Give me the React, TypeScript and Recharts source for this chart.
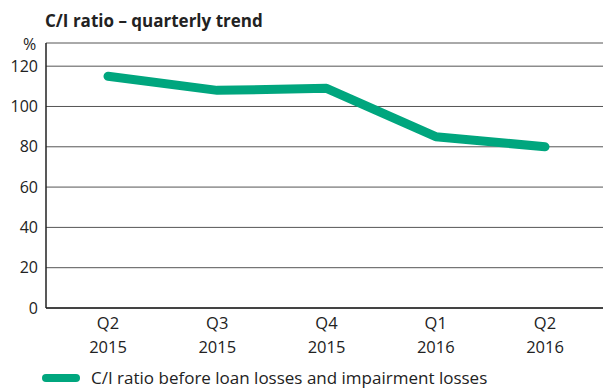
import { LineChart, Line, XAxis, YAxis, CartesianGrid, Legend } from 'recharts'

const quarters = ['Q2', 'Q3', 'Q4', 'Q1', 'Q2']
const years = ['2015', '2015', '2015', '2016', '2016']
const ciRatio = [115, 108, 109, 85, 80]
const yTicks = [0, 20, 40, 60, 80, 100, 120]

const data = quarters.map((q, i) => ({ label: `${q} ${years[i]}`, q, year: years[i], ci: ciRatio[i] }))

const FONT = '"Open Sans", sans-serif'
const GREEN = '#00a67e'

function QuarterTick(props: any) {
  const { x, y, payload, index } = props
  return (
    <text x={x} y={y} textAnchor="middle" fill="#222" fontSize={16.5} fontFamily={FONT}>
      <tspan x={x} dy={13}>{quarters[index] ?? payload.value}</tspan>
      <tspan x={x} dy={24}>{years[index]}</tspan>
    </text>
  )
}

function LegendBox() {
  return (
    <div style={{ display: 'flex', alignItems: 'center', paddingLeft: 42, paddingTop: 5, lineHeight: '20px', fontFamily: FONT, fontSize: 17, color: '#222' }}>
      <span style={{ display: 'inline-block', width: 38, height: 8, borderRadius: 4, background: GREEN, marginRight: 11 }} />
      C/I ratio before loan losses and impairment losses
    </div>
  )
}

export default function App() {
  return (
    <div style={{ position: 'absolute', left: 0, top: 0, width: 603, height: 389, background: '#fff' }}>
      <div style={{ position: 'absolute', left: 45, top: 9, fontFamily: FONT, fontWeight: 700, fontSize: 17, color: '#222' }}>
        C/I ratio – quarterly trend
      </div>
      <div style={{ position: 'absolute', left: 23, top: 33, fontFamily: FONT, fontSize: 16, color: '#222' }}>%</div>
      <LineChart width={603} height={389} data={data} margin={{ top: 43, right: 0, left: 0, bottom: 0 }}>
        <CartesianGrid vertical={false} stroke="#555" strokeWidth={1} />
        <XAxis
          dataKey="label"
          height={55}
          tick={<QuarterTick />}
          tickLine={false}
          axisLine={{ stroke: '#222', strokeWidth: 1.5 }}
          padding={{ left: 62, right: 58 }}
          interval={0}
        />
        <YAxis
          width={46}
          domain={[0, 131.5]}
          ticks={yTicks}
          allowDataOverflow
          tickLine={false}
          axisLine={{ stroke: '#222', strokeWidth: 1.5 }}
          tick={{ fill: '#222', fontSize: 16, fontFamily: FONT }}
        />
        <Legend verticalAlign="bottom" align="left" height={26} content={<LegendBox />} />
        <Line
          type="linear"
          dataKey="ci"
          stroke={GREEN}
          strokeWidth={9}
          strokeLinecap="round"
          strokeLinejoin="round"
          dot={false}
          activeDot={false}
          isAnimationActive={false}
        />
      </LineChart>
    </div>
  )
}
